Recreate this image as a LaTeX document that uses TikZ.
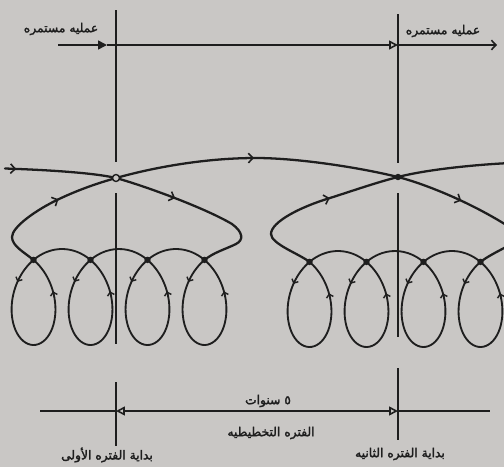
\documentclass[tikz,border=0pt]{standalone}
\usepackage{fontspec}
\usepackage{tikz}
\usetikzlibrary{arrows.meta,decorations.markings}
\newfontfamily\arabicfont[Script=Arabic,FakeBold=2.2]{DejaVu Sans}
\TeXXeTstate=1
\definecolor{paper}{HTML}{C9C7C5}
\definecolor{ink}{HTML}{1E1E1E}
\tikzset{
  orbit/.style={ink,line width=1.3pt,line cap=round},
  epicycle/.style={ink,line width=1.05pt,line cap=round},
  marker/.style={ink,line width=0.9pt},
  timeline/.style={ink,line width=0.9pt},
  flow/.style={postaction={decorate,decoration={markings,
    mark=at position #1 with {\arrow[ink,line width=0.9pt]{Straight Barb[length=2.6pt,width=5.5pt]}}}}},
  looptip/.style={ink,line width=0.8pt,-{Straight Barb[length=1.8pt,width=4pt]}},
  knot/.style={circle,fill=ink,inner sep=1.3pt},
  hollowknot/.style={circle,draw=ink,fill=paper,line width=0.8pt,inner sep=1.4pt},
  arabictext/.style={font={\arabicfont\fontsize{7}{8}\selectfont},text=ink,inner sep=0pt}
}

\begin{document}
\begin{tikzpicture}[x=0.02cm,y=-0.02cm]
\clip (0,0) rectangle (504,467);
\fill[paper] (0,0) rectangle (504,467);
\coordinate (nL) at (116,178);
\coordinate (nR) at (398,177);
\coordinate (a1) at (33.5,260);
\coordinate (a4) at (204.5,260);
\coordinate (b1) at (309.5,262);
\coordinate (b4) at (480.5,262);
\draw[marker] (116,10) -- (116,162);
\draw[marker] (116,193) -- (116,344);
\draw[marker] (116,382) -- (116,446);
\draw[marker] (398,14) -- (398,163);
\draw[marker] (398,193) -- (398,337);
\draw[marker] (398,368) -- (398,440);
\coordinate (tS) at (58,45);
\coordinate (t1) at (107,45);
\coordinate (t2) at (398,45);
\coordinate (tE) at (497,45);
\draw[timeline,-{Triangle[length=5pt,width=5pt]}] (tS) -- (t1);
\draw[timeline,-{Triangle[open,length=5pt,width=5pt]}] (t1) -- (t2);
\draw[timeline,-{Straight Barb[length=2.6pt,width=5.5pt]}] (t2) -- (tE);
\coordinate (bS) at (40,411);
\coordinate (b1s) at (116,411);
\coordinate (b2s) at (398,411);
\coordinate (bE) at (490,411);
\draw[timeline] (bS) -- (b1s);
\draw[timeline,{Triangle[open,length=5pt,width=5pt]}-{Triangle[open,length=5pt,width=5pt]}] (b1s) -- (b2s);
\draw[timeline] (b2s) -- (bE);
\draw[orbit,flow=0.1] (5,168.5) .. controls (50,170) and (95,173) .. (nL);
\draw[orbit,flow=0.5] (nL) .. controls (145,186) and (205,208) .. (232,224);
\draw[orbit] (232,224) .. controls (243,232) and (244,240) .. (236,244) .. controls (226,249) and (213.7,252.3) .. (a4);
\draw[orbit] (a1) .. controls (24.3,252.3) and (12,246) .. (12,237);
\draw[orbit,flow=0.5] (12,237) .. controls (12,227) and (36,210) .. (58,199.5) .. controls (80,189) and (100,182.5) .. (nL);
\draw[orbit,flow=0.49] (nL) .. controls (160,165.7) and (210,158) .. (256,158) .. controls (295,158) and (355,166.5) .. (nR);
\draw[orbit] (b1) .. controls (300.3,254.3) and (271,244) .. (271,234);
\draw[orbit,flow=0.5] (271,234) .. controls (271,222) and (300,207) .. (330,198) .. controls (355,190) and (378,182) .. (nR);
\draw[orbit] (nR) .. controls (425,170) and (470,165) .. (510,163);
\draw[orbit,flow=0.5] (nR) .. controls (427,184.5) and (478,205) .. (520,234);
\draw[orbit] (b4) .. controls (489.7,254.3) and (510,246) .. (521,238);
\draw[epicycle] plot[variable=\t,domain=-11.878:11.878,samples=241,smooth]
  ({119+9.07*\t+35*sin(\t r)},{297-48*cos(\t r)});
\draw[epicycle] plot[variable=\t,domain=-11.878:11.878,samples=241,smooth]
  ({395+9.07*\t+35*sin(\t r)},{299-48*cos(\t r)});
\foreach \cc/\yy in {119/297,395/299}{
  \foreach \k in {-3,-1,1,3}{
    \foreach \s in {1.93,-1.65}{
      \pgfmathsetmacro{\tv}{\k*pi+\s}
      \pgfmathsetmacro{\lx}{\cc+9.07*\tv+35*sin(\tv r)}
      \pgfmathsetmacro{\ly}{\yy-48*cos(\tv r)}
      \pgfmathsetmacro{\ldx}{9.07+35*cos(\tv r)}
      \pgfmathsetmacro{\ldy}{48*sin(\tv r)}
      \draw[looptip] ({\lx+0.04*\ldx},{\ly+0.04*\ldy}) -- ({\lx-0.04*\ldx},{\ly-0.04*\ldy});
    }
    \node[knot] at ({\cc+9.07*\k*pi},{\yy-37.1}) {};
  }
}
\node[hollowknot] at (nL) {};
\node[knot] at (nR) {};
\node[arabictext] (topL) at (61,29) {\beginR عمليه مستمره\endR};
\node[arabictext] (topR) at (443,31) {\beginR عمليه مستمره\endR};
\node[arabictext] (span) at (268,401) {\beginR ٥ سنوات\endR};
\node[arabictext] (plan) at (271,433) {\beginR الفتره التخطيطيه\endR};
\node[arabictext] (startA) at (107,455) {\beginR بداية الفتره الأولى\endR};
\node[arabictext] (startB) at (400,454) {\beginR بداية الفتره الثانيه\endR};
\end{tikzpicture}
\end{document}
